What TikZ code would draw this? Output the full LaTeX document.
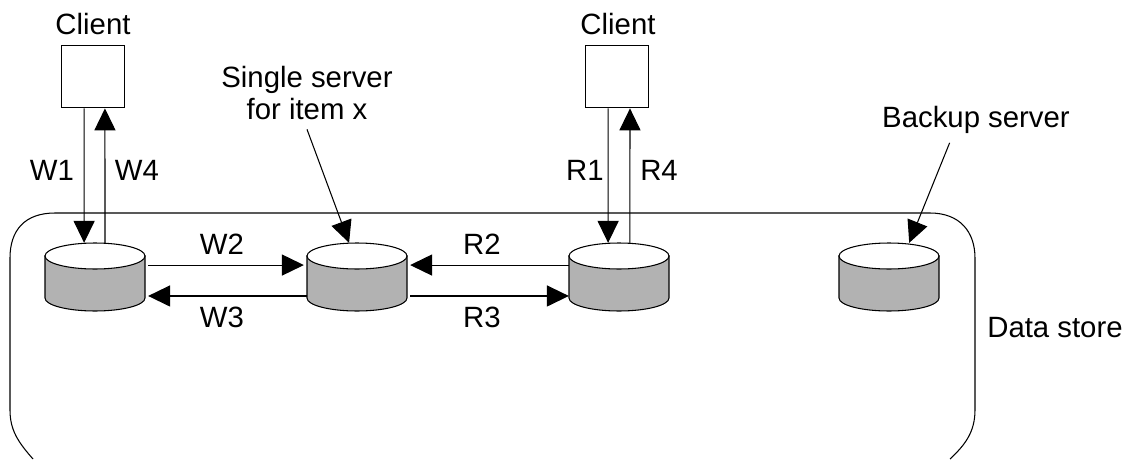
\documentclass[tikz,border=0pt]{standalone}
\usepackage{fontspec}
\setmainfont{Liberation Sans}
\usetikzlibrary{arrows.meta}
\definecolor{diskgray}{RGB}{178,178,178}
\tikzset{
	diskbox/.style={inner sep=0pt, minimum width=56.7pt, minimum height=38.5pt},
	clientbox/.style={draw=black, line width=0.6pt, fill=white, inner sep=0pt, minimum width=35.7pt, minimum height=35.7pt},
	label/.style={font=\fontsize{16.7pt}{18.7pt}\selectfont, inner sep=0pt, align=center},
	arrow/.style={line width=0.6pt, -{Triangle[length=12.5pt,width=12pt]}},
}
\begin{document}
\begin{tikzpicture}[x=0.02cm,y=-0.02cm]
	\useasboundingbox (0,0) rectangle (1127,460);
	% data store outline, open at the bottom
	\draw[line width=0.6pt] (33,459) .. controls (18,442) and (10,430) .. (10,410) -- (10,258)
		.. controls (10,230) and (25,213) .. (55,213) -- (930,213)
		.. controls (960,213) and (975,232) .. (975,258) -- (975,410)
		.. controls (975,432) and (965,445) .. (950,459);
	\node[clientbox] (client1) at (93,76.5) {};
	\node[clientbox] (client2) at (617,76.5) {};
	% disks: grey body, white lid, then a bare node to connect to
	\foreach \diskname/\diskx in {disk1/95,disk2/357,disk3/619,disk4/889} {
		\draw[line width=0.6pt, fill=diskgray] (\diskx-50,256) -- (\diskx-50,298)
			arc[x radius=50, y radius=13, start angle=180, end angle=0] -- (\diskx+50,256) -- cycle;
		\draw[line width=0.6pt, fill=white] (\diskx,256) ellipse[x radius=50, y radius=13];
		\node[diskbox] (\diskname) at (\diskx,277) {};
	}
	\node[label] (clientlabel1) at (93,24) {Client};
	\node[label] (clientlabel2) at (618,24) {Client};
	\node[label] (single) at (307,93) {Single server\\for item x};
	\node[label] (backup) at (976,120) {Backup server};
	\node[label] (store) at (1055,328) {Data store};
	\node[label] (w1) at (52,170) {W1};
	\node[label] (w4) at (137,170) {W4};
	\node[label] (r1) at (585,170) {R1};
	\node[label] (r4) at (659,170) {R4};
	\node[label] (w2) at (222,244) {W2};
	\node[label] (w3) at (222,317) {W3};
	\node[label] (r2) at (482,244) {R2};
	\node[label] (r3) at (482,317) {R3};
	\draw[arrow] ([xshift=-5pt]client1.south) -- ([xshift=-6.2pt]disk1.north);
	\draw[arrow] ([xshift=5.7pt]disk1.north) -- ([xshift=6.8pt]client1.south);
	\draw[arrow] ([xshift=-5pt]client2.south) -- ([xshift=-6.2pt]disk3.north);
	\draw[arrow] ([xshift=6.2pt]disk3.north) -- ([xshift=7.4pt]client2.south);
	\draw[arrow] ([yshift=6.8pt,xshift=1.7pt]disk1.east) -- ([yshift=6.8pt,xshift=-1.7pt]disk2.west);
	\draw[arrow] ([yshift=-10.8pt]disk2.west) -- ([yshift=-10.8pt,xshift=1.7pt]disk1.east);
	\draw[arrow] ([yshift=6.8pt]disk3.west) -- ([yshift=6.8pt,xshift=1.7pt]disk2.east);
	\draw[arrow] ([yshift=-10.8pt,xshift=1.7pt]disk2.east) -- ([yshift=-10.8pt]disk3.west);
	\draw[arrow] ([yshift=-5pt]single.south) -- ([xshift=-4.5pt]disk2.north);
	\draw[arrow] ([xshift=-15pt,yshift=-5pt]backup.south) -- ([xshift=11.5pt]disk4.north);
\end{tikzpicture}
\end{document}
